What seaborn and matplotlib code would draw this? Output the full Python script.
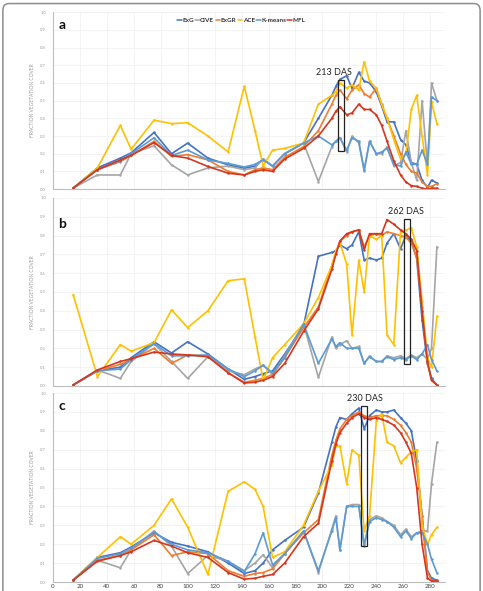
import matplotlib
matplotlib.use('Agg')
import numpy as np
import pandas as pd
import matplotlib.pyplot as plt
import seaborn as sns
from matplotlib.lines import Line2D
from matplotlib.patches import Rectangle, FancyBboxPatch

# fechas de muestreo (dias despues de siembra)
das = [15, 33, 50, 58, 75, 88, 100, 115, 130, 142, 150, 156, 163, 172, 186, 197,
       207, 210, 213, 218, 222, 227, 231, 235, 240, 244, 248, 253, 258, 262, 266,
       270, 274, 278, 281, 285]

metodos = ['ExG', 'CIVE', 'ExGR', 'ACE', 'K-means', 'MFL']
colores = {'ExG': '#4472C4', 'CIVE': '#A5A5A5', 'ExGR': '#ED7D31',
           'ACE': '#FFC000', 'K-means': '#5B9BD5', 'MFL': '#D6361E'}

# panel a
exg_a = [0.006, 0.12, 0.175, 0.205, 0.32, 0.20, 0.26, 0.175, 0.137, 0.118, 0.13, 0.17, 0.13, 0.20, 0.26, 0.40,
         0.53, 0.58, 0.62, 0.64, 0.57, 0.66, 0.61, 0.60, 0.55, 0.47, 0.38, 0.38, 0.28, 0.25, 0.15,
         0.14, 0.05, 0.01, 0.05, 0.035]
cive_a = [0.006, 0.08, 0.08, 0.20, 0.245, 0.137, 0.08, 0.12, 0.13, 0.11, 0.12, 0.17, 0.13, 0.20, 0.26, 0.043,
          0.24, 0.27, 0.29, 0.21, 0.30, 0.26, 0.10, 0.27, 0.20, 0.20, 0.24, 0.13, 0.15, 0.33, 0.15,
          0.05, 0.50, 0.13, 0.60, 0.50]
exgr_a = [0.006, 0.11, 0.155, 0.19, 0.27, 0.185, 0.195, 0.165, 0.10, 0.08, 0.11, 0.12, 0.11, 0.18, 0.24, 0.33,
          0.48, 0.53, 0.56, 0.51, 0.56, 0.59, 0.54, 0.52, 0.57, 0.48, 0.40, 0.30, 0.20, 0.14, 0.10,
          0.09, 0.04, 0.015, 0.015, 0.03]
ace_a = [0.006, 0.12, 0.36, 0.225, 0.39, 0.37, 0.375, 0.30, 0.21, 0.58, 0.33, 0.13, 0.22, 0.23, 0.26, 0.48,
         0.53, 0.55, 0.60, 0.57, 0.59, 0.56, 0.72, 0.61, 0.57, 0.48, 0.40, 0.28, 0.17, 0.20, 0.45,
         0.53, 0.30, 0.08, 0.49, 0.37]
kmeans_a = [0.006, 0.11, 0.16, 0.20, 0.29, 0.19, 0.22, 0.165, 0.145, 0.125, 0.14, 0.165, 0.13, 0.20, 0.26, 0.30,
            0.25, 0.27, 0.29, 0.22, 0.29, 0.27, 0.11, 0.27, 0.20, 0.21, 0.23, 0.14, 0.13, 0.21, 0.14,
            0.14, 0.22, 0.14, 0.52, 0.50]
mfl_a = [0.006, 0.11, 0.165, 0.19, 0.263, 0.19, 0.175, 0.128, 0.09, 0.08, 0.10, 0.11, 0.10, 0.17, 0.23, 0.30,
         0.40, 0.44, 0.465, 0.42, 0.43, 0.48, 0.45, 0.45, 0.42, 0.36, 0.27, 0.16, 0.08, 0.04, 0.02,
         0.015, 0.005, 0.0, 0.005, 0.005]

# panel b
exg_b = [0.005, 0.08, 0.10, 0.15, 0.235, 0.175, 0.235, 0.17, 0.09, 0.035, 0.05, 0.065, 0.08, 0.17, 0.32, 0.69,
         0.71, 0.72, 0.75, 0.73, 0.75, 0.82, 0.67, 0.68, 0.67, 0.68, 0.76, 0.81, 0.73, 0.80, 0.77,
         0.68, 0.35, 0.12, 0.04, 0.005]
cive_b = [0.005, 0.085, 0.04, 0.13, 0.225, 0.13, 0.04, 0.155, 0.08, 0.06, 0.09, 0.11, 0.06, 0.16, 0.33, 0.045,
          0.26, 0.20, 0.22, 0.24, 0.20, 0.21, 0.12, 0.16, 0.13, 0.13, 0.16, 0.15, 0.16, 0.145, 0.165,
          0.15, 0.17, 0.14, 0.20, 0.74]
exgr_b = [0.005, 0.08, 0.115, 0.14, 0.20, 0.12, 0.165, 0.16, 0.07, 0.02, 0.03, 0.04, 0.06, 0.15, 0.31, 0.42,
          0.64, 0.71, 0.77, 0.80, 0.82, 0.83, 0.74, 0.80, 0.81, 0.80, 0.82, 0.81, 0.80, 0.79, 0.76,
          0.68, 0.42, 0.12, 0.03, 0.005]
ace_b = [0.485, 0.05, 0.22, 0.185, 0.23, 0.405, 0.31, 0.40, 0.56, 0.57, 0.26, 0.03, 0.15, 0.22, 0.33, 0.47,
         0.64, 0.72, 0.76, 0.65, 0.27, 0.67, 0.50, 0.80, 0.78, 0.80, 0.27, 0.22, 0.82, 0.83, 0.84,
         0.74, 0.45, 0.15, 0.10, 0.37]
kmeans_b = [0.005, 0.08, 0.09, 0.14, 0.225, 0.16, 0.16, 0.165, 0.09, 0.05, 0.08, 0.11, 0.07, 0.15, 0.33, 0.12,
            0.25, 0.21, 0.23, 0.20, 0.20, 0.20, 0.12, 0.155, 0.13, 0.13, 0.155, 0.14, 0.15, 0.14, 0.16,
            0.14, 0.17, 0.22, 0.14, 0.08]
mfl_b = [0.005, 0.085, 0.13, 0.145, 0.18, 0.17, 0.165, 0.155, 0.07, 0.015, 0.02, 0.03, 0.05, 0.12, 0.29, 0.41,
         0.62, 0.70, 0.77, 0.81, 0.82, 0.83, 0.725, 0.81, 0.81, 0.81, 0.885, 0.86, 0.83, 0.81, 0.78,
         0.72, 0.40, 0.13, 0.03, 0.005]

# panel c
exg_c = [0.01, 0.13, 0.155, 0.185, 0.26, 0.21, 0.19, 0.16, 0.10, 0.045, 0.06, 0.10, 0.17, 0.22, 0.29, 0.47,
         0.74, 0.82, 0.87, 0.86, 0.89, 0.92, 0.81, 0.88, 0.91, 0.90, 0.90, 0.91, 0.87, 0.84, 0.80,
         0.64, 0.35, 0.06, 0.02, 0.01]
cive_c = [0.01, 0.115, 0.075, 0.17, 0.27, 0.19, 0.045, 0.14, 0.11, 0.06, 0.10, 0.145, 0.075, 0.15, 0.27, 0.05,
          0.28, 0.35, 0.17, 0.40, 0.41, 0.41, 0.20, 0.33, 0.35, 0.34, 0.32, 0.30, 0.25, 0.28, 0.24,
          0.26, 0.27, 0.27, 0.52, 0.74]
exgr_c = [0.01, 0.115, 0.14, 0.17, 0.25, 0.14, 0.16, 0.15, 0.06, 0.03, 0.045, 0.05, 0.07, 0.15, 0.26, 0.33,
          0.67, 0.75, 0.81, 0.86, 0.88, 0.90, 0.88, 0.87, 0.88, 0.88, 0.88, 0.86, 0.83, 0.79, 0.74,
          0.60, 0.35, 0.05, 0.01, 0.005]
ace_c = [0.01, 0.13, 0.24, 0.20, 0.30, 0.44, 0.29, 0.04, 0.48, 0.53, 0.49, 0.40, 0.13, 0.16, 0.30, 0.48,
         0.62, 0.72, 0.72, 0.52, 0.70, 0.67, 0.27, 0.35, 0.85, 0.89, 0.74, 0.72, 0.63, 0.66, 0.69,
         0.70, 0.30, 0.20, 0.25, 0.29]
kmeans_c = [0.01, 0.125, 0.15, 0.18, 0.265, 0.20, 0.17, 0.155, 0.11, 0.055, 0.15, 0.26, 0.09, 0.15, 0.27, 0.06,
            0.27, 0.34, 0.17, 0.40, 0.40, 0.40, 0.19, 0.32, 0.34, 0.33, 0.32, 0.29, 0.24, 0.27, 0.23,
            0.26, 0.26, 0.20, 0.12, 0.05]
mfl_c = [0.01, 0.11, 0.14, 0.16, 0.22, 0.19, 0.155, 0.13, 0.05, 0.015, 0.02, 0.03, 0.04, 0.10, 0.24, 0.31,
         0.64, 0.73, 0.79, 0.84, 0.87, 0.89, 0.87, 0.86, 0.87, 0.86, 0.85, 0.83, 0.79, 0.74, 0.68,
         0.50, 0.20, 0.02, 0.005, 0.005]

paneles = {
    'a': [exg_a, cive_a, exgr_a, ace_a, kmeans_a, mfl_a],
    'b': [exg_b, cive_b, exgr_b, ace_b, kmeans_b, mfl_b],
    'c': [exg_c, cive_c, exgr_c, ace_c, kmeans_c, mfl_c],
}
# fecha marcada en cada panel
marcas = {'a': 213, 'b': 262, 'c': 230}


def to_long(series):
    filas = []
    for metodo, valores in zip(metodos, series):
        for d, v in zip(das, valores):
            filas.append({'das': d, 'metodo': metodo, 'fvc': v})
    return pd.DataFrame(filas)


sns.set_theme(style='whitegrid')
plt.rcParams['font.family'] = ['Lato', 'DejaVu Sans']

fig = plt.figure(figsize=(4.83, 5.91), dpi=100)
fig.patch.set_facecolor('white')

# posiciones de los ejes (fraccion de figura)
posiciones = {'a': [0.1097, 0.680, 0.8116, 0.2995],
              'b': [0.1097, 0.347, 0.8116, 0.318],
              'c': [0.1097, 0.0152, 0.8116, 0.3198]}
# cajas alrededor de la fecha marcada: (x0, x1, y0, y1, texto_x, texto_y)
cajas = {'a': (211.9, 216.1, 0.218, 0.615, 208.5, 0.635),
         'b': (260.7, 264.7, 0.117, 0.89, 262.0, 0.905),
         'c': (229.0, 233.2, 0.19, 0.93, 231.7, 0.945)}
pos_letra = {'a': 0.925, 'b': 0.86, 'c': 0.93}

for panel, series in paneles.items():
    ax = fig.add_axes(posiciones[panel])
    df = to_long(series)
    sns.lineplot(data=df, x='das', y='fvc', hue='metodo', hue_order=metodos,
                 palette=colores, estimator=None, sort=False, marker='o',
                 markersize=1.8, markeredgewidth=0, linewidth=1.2, ax=ax, legend=False)

    ax.set_xlim(0, 291)
    ax.set_ylim(0, 1.0)
    ax.set_yticks(np.arange(0, 1.01, 0.1))
    ax.set_yticklabels([f'{v:.1f}' for v in np.arange(0, 1.01, 0.1)])
    ax.set_xticks(range(0, 281, 20))
    ax.grid(True, color='#f1f1f1', linewidth=0.6)
    for s in ['top', 'right']:
        ax.spines[s].set_visible(False)
    for s in ['left', 'bottom']:
        ax.spines[s].set_color('#bdbdbd')
        ax.spines[s].set_linewidth(0.8)
    ax.tick_params(axis='y', length=0, labelsize=3, labelcolor='#9a9a9a', pad=5)
    if panel == 'c':
        ax.tick_params(axis='x', length=0, labelsize=4.5, labelcolor='#444444', pad=1.5)
    else:
        ax.tick_params(axis='x', length=0, labelbottom=False)
    ax.set_xlabel('')
    ax.set_ylabel('FRACTION VEGETATION COVER', fontsize=3.5, color='#9a9a9a', labelpad=4)

    ax.text(6.7, pos_letra[panel], panel, fontsize=10, fontweight='bold',
            color='#111111', ha='center', va='center')

    x0, x1, y0, y1, tx, ty = cajas[panel]
    ax.add_patch(Rectangle((x0, y0), x1 - x0, y1 - y0, fill=False,
                           edgecolor='#222222', linewidth=0.9, zorder=5))
    ax.text(tx, ty, f'{marcas[panel]} DAS', fontsize=6.5, color='#222222',
            ha='center', va='bottom', zorder=6)

    if panel == 'a':
        handles = [Line2D([0], [0], color=colores[m], lw=1.1) for m in metodos]
        ax.legend(handles, metodos, loc='center', bbox_to_anchor=(0.48, 0.955), ncol=6,
                  frameon=False, handlelength=0.7, handletextpad=0.1, columnspacing=0.2,
                  borderaxespad=0, prop={'weight': 'bold', 'size': 4.6})
        for t in ax.get_legend().get_texts():
            t.set_color('#333333')

# marco gris redondeado de la figura
marco = FancyBboxPatch((0.006, -0.02), 0.988, 1.014,
                       boxstyle='round,pad=0,rounding_size=0.012',
                       transform=fig.transFigure, fill=False,
                       edgecolor='#8c8c8c', linewidth=1.1)
fig.patches.append(marco)

fig.savefig('out.png', dpi=100)
